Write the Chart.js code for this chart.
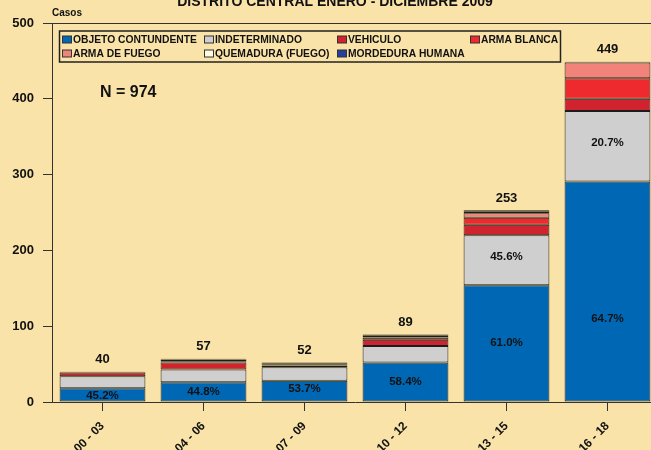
<!DOCTYPE html>
<html>
<head>
<meta charset="utf-8">
<script src="https://cdn.jsdelivr.net/npm/chart.js@4.4.0/dist/chart.umd.min.js"></script>
<style>
    html, body { margin: 0; padding: 0; overflow: hidden; background: #f9e3a9; }
    #wrap { position: relative; width: 660px; height: 450px; }
</style>
</head>
<body>
<div id="wrap"><canvas id="chart"></canvas></div>
<script>
// cases per hour block, stacked by type of injury
const horas = ['00 - 03', '04 - 06', '07 - 09', '10 - 12', '13 - 15', '16 - 18'];
const objetoContundente = [18, 26, 28, 52, 154, 291];
const indeterminado = [16, 17, 18, 22, 66, 93];
const vehiculo = [5, 9, 2, 8, 14, 16];
const armaBlanca = [1, 1, 1, 3, 9, 27];
const armaFuego = [0, 1, 1, 2, 6, 21];
const quemadura = [0, 2, 1, 1, 2, 1];
const mordedura = [0, 1, 1, 1, 2, 0];
const pctObjeto = ['45.2%', '44.8%', '53.7%', '58.4%', '61.0%', '64.7%'];
const pctIndeterminado = [null, null, null, null, '45.6%', '20.7%'];
const yTicks = [0, 100, 200, 300, 400, 500];
const titulo = 'DISTRITO CENTRAL ENERO - DICIEMBRE 2009';
const totalN = 'N = 974';

const FONT = "'Liberation Sans', Arial, sans-serif";
const EDGE = '#1c1c1c';

function serie(label, data, color) {
    return {
        label: label,
        data: data,
        backgroundColor: color,
        borderColor: EDGE,
        borderWidth: 1,
        borderSkipped: false,
        barPercentage: 0.85,
        categoryPercentage: 1.0
    };
}

// text, totals, legend box and top border
const extras = {
    id: 'extras',
    afterDraw(chart) {
        const ctx = chart.ctx;
        const area = chart.chartArea;
        ctx.save();
        ctx.fillStyle = '#111';

        ctx.strokeStyle = '#333';
        ctx.lineWidth = 1;
        ctx.beginPath();
        ctx.moveTo(area.left, Math.round(area.top) + 0.5);
        ctx.lineTo(area.right, Math.round(area.top) + 0.5);
        ctx.stroke();

        ctx.font = 'bold 14px ' + FONT;
        ctx.textAlign = 'center';
        ctx.textBaseline = 'alphabetic';
        ctx.fillText(titulo, 335, 6);

        ctx.font = 'bold 10px ' + FONT;
        ctx.textAlign = 'left';
        ctx.textBaseline = 'middle';
        ctx.fillText('Casos', 52, 13.5);

        ctx.font = 'bold 16px ' + FONT;
        ctx.fillText(totalN, 100, 93);

        // legend
        ctx.lineWidth = 1.5;
        ctx.strokeStyle = '#222';
        ctx.strokeRect(59.5, 31, 501, 31);
        const cols = [62, 204, 337, 470];
        const rows = [39.5, 53.5];
        ctx.font = 'bold 10.3px ' + FONT;
        chart.data.datasets.forEach((ds, i) => {
            const x = cols[i % 4];
            const y = rows[Math.floor(i / 4)];
            ctx.fillStyle = ds.backgroundColor;
            ctx.fillRect(x, y - 3.5, 10, 7);
            ctx.lineWidth = 1;
            ctx.strokeStyle = '#333';
            ctx.strokeRect(x + 0.5, y - 3.5, 9, 7);
            ctx.fillStyle = '#111';
            ctx.fillText(ds.label, x + 11, y + 0.5);
        });

        // totals over each bar
        const last = chart.data.datasets.length - 1;
        ctx.font = 'bold 13px ' + FONT;
        ctx.textAlign = 'center';
        horas.forEach((h, j) => {
            let total = 0;
            chart.data.datasets.forEach(ds => { total += ds.data[j]; });
            const bar = chart.getDatasetMeta(last).data[j];
            ctx.fillText(String(total), bar.x, bar.y - 12);
        });

        // percentage labels inside segments
        ctx.font = 'bold 11.5px ' + FONT;
        const shift = [1, 0, -2, 0, -1, 27];
        const blue = chart.getDatasetMeta(0).data;
        const grey = chart.getDatasetMeta(1).data;
        pctObjeto.forEach((t, j) => {
            const b = blue[j];
            ctx.fillText(t, b.x, (b.y + b.base) / 2 + shift[j]);
        });
        pctIndeterminado.forEach((t, j) => {
            if (!t) return;
            const b = grey[j];
            ctx.fillText(t, b.x, (b.y + b.base) / 2 - 3);
        });
        ctx.restore();
    }
};

new Chart(document.getElementById('chart'), {
    type: 'bar',
    data: {
        labels: horas,
        datasets: [
            serie('OBJETO CONTUNDENTE', objetoContundente, '#0067b4'),
            serie('INDETERMINADO', indeterminado, '#cfcfcf'),
            serie('VEHICULO', vehiculo, '#d0232f'),
            serie('ARMA BLANCA', armaBlanca, '#ee2a2e'),
            serie('ARMA DE FUEGO', armaFuego, '#f2837a'),
            serie('QUEMADURA (FUEGO)', quemadura, '#fdfbe2'),
            serie('MORDEDURA HUMANA', mordedura, '#25409a')
        ]
    },
    options: {
        responsive: true,
        maintainAspectRatio: false,
        animation: false,
        layout: { padding: { top: 23, right: 2, left: 0, bottom: 0 } },
        plugins: {
            legend: { display: false },
            tooltip: { enabled: false }
        },
        scales: {
            x: {
                stacked: true,
                grid: { offset: false, drawOnChartArea: false, tickLength: 9, color: '#333' },
                border: { color: '#333', width: 1 },
                ticks: {
                    color: '#111',
                    font: { family: FONT, size: 12, weight: 'bold' },
                    minRotation: 45,
                    maxRotation: 45,
                    padding: 8
                },
                afterFit: (s) => { s.height = 48; }
            },
            y: {
                stacked: true,
                min: 0,
                max: 500,
                afterBuildTicks: (s) => { s.ticks = yTicks.map(v => ({ value: v })); },
                grid: { drawOnChartArea: false, tickLength: 9, color: '#333' },
                border: { color: '#333', width: 1 },
                ticks: {
                    color: '#111',
                    font: { family: FONT, size: 13, weight: 'bold' },
                    padding: 9
                },
                afterFit: (s) => { s.width = 52; }
            }
        }
    },
    plugins: [extras]
});
</script>
</body>
</html>
